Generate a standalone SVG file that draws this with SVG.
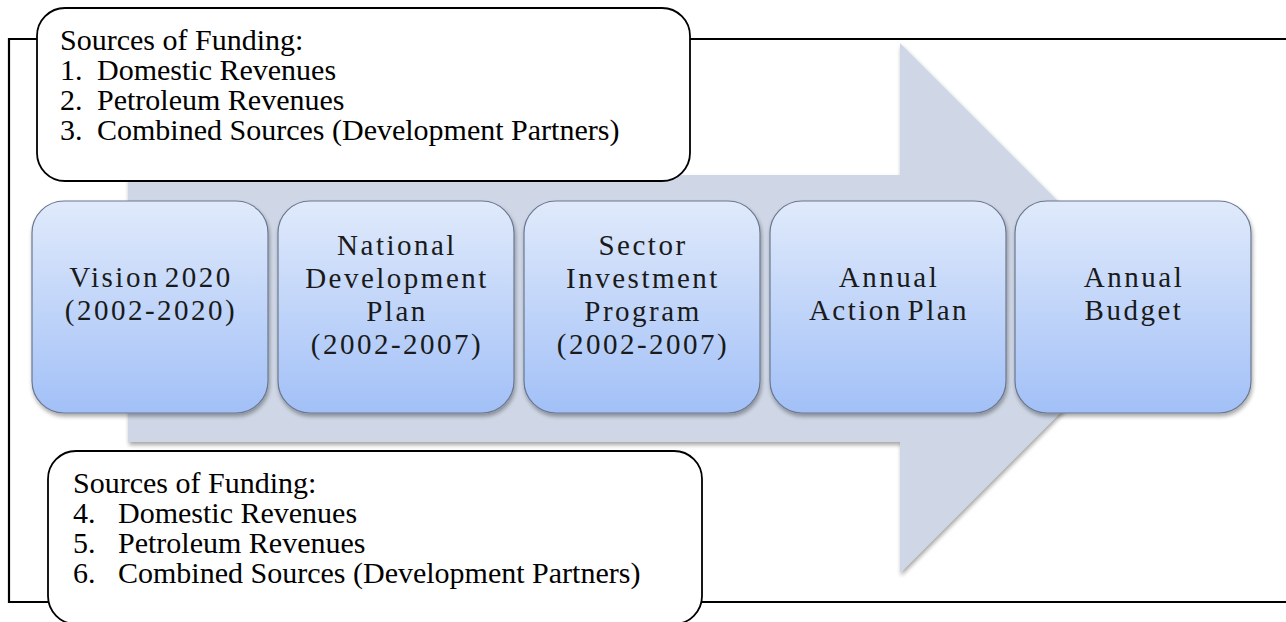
<svg xmlns="http://www.w3.org/2000/svg" width="1286" height="622" viewBox="0 0 1286 622">
<defs>
<linearGradient id="boxg" x1="0" y1="0" x2="0" y2="1">
<stop offset="0" stop-color="#e0eafb"/>
<stop offset="1" stop-color="#a2c0f7"/>
</linearGradient>
<filter id="sh" x="-10%" y="-10%" width="125%" height="125%">
<feGaussianBlur in="SourceAlpha" stdDeviation="2"/>
<feOffset dx="1" dy="3" result="b"/>
<feComponentTransfer><feFuncA type="linear" slope="0.35"/></feComponentTransfer>
<feMerge><feMergeNode/><feMergeNode in="SourceGraphic"/></feMerge>
</filter>
</defs>
<style>
.frame{fill:none;stroke:#000;stroke-width:2.2}
.call{fill:#fff;stroke:#000;stroke-width:1.8}
.ct{font-family:"Liberation Serif","Times New Roman",serif;font-size:30px;fill:#000}
.box{fill:url(#boxg);stroke:#6a7790;stroke-width:1.2}
.bt{font-family:"Liberation Serif","Times New Roman",serif;font-size:29px;fill:#1a1a1a;text-anchor:middle;letter-spacing:2.5px;word-spacing:-5px}
.arrow{fill:#cfd7e6}
</style>
<g id="connectors">
<path class="frame" d="M1286 39 H9 V602 H1286"/>
<path id="big-arrow" class="arrow" filter="url(#sh)" d="M128 175 H900 V43 L1165 308 L900 573 V442 H128 Z"/>
</g>
<g id="funding-top">
<rect class="call" x="37" y="8" width="653" height="173" rx="28"/>
<text class="ct" x="60" y="50">Sources of Funding:</text>
<text class="ct" x="60" y="80">1.</text><text class="ct" x="97" y="80">Domestic Revenues</text>
<text class="ct" x="60" y="110">2.</text><text class="ct" x="97" y="110">Petroleum Revenues</text>
<text class="ct" x="60" y="140">3.</text><text class="ct" x="97" y="140">Combined Sources (Development Partners)</text>
</g>
<g id="funding-bottom">
<rect class="call" x="48" y="451" width="654" height="173" rx="28"/>
<text class="ct" x="73" y="493">Sources of Funding:</text>
<text class="ct" x="73" y="523">4.</text><text class="ct" x="118" y="523">Domestic Revenues</text>
<text class="ct" x="73" y="553">5.</text><text class="ct" x="118" y="553">Petroleum Revenues</text>
<text class="ct" x="73" y="583">6.</text><text class="ct" x="118" y="583">Combined Sources (Development Partners)</text>
</g>
<g id="vision">
<rect class="box" filter="url(#sh)" x="32" y="201" width="236" height="212" rx="32"/>
<text class="bt" x="151" y="287">Vision 2020</text>
<text class="bt" x="151" y="320">(2002-2020)</text>
</g>
<g id="ndp">
<rect class="box" filter="url(#sh)" x="278" y="201" width="236" height="212" rx="32"/>
<text class="bt" x="397" y="255">National</text>
<text class="bt" x="397" y="288">Development</text>
<text class="bt" x="397" y="321">Plan</text>
<text class="bt" x="397" y="354">(2002-2007)</text>
</g>
<g id="sip">
<rect class="box" filter="url(#sh)" x="524" y="201" width="236" height="212" rx="32"/>
<text class="bt" x="643" y="255">Sector</text>
<text class="bt" x="643" y="288">Investment</text>
<text class="bt" x="643" y="321">Program</text>
<text class="bt" x="643" y="354">(2002-2007)</text>
</g>
<g id="aap">
<rect class="box" filter="url(#sh)" x="770" y="201" width="236" height="212" rx="32"/>
<text class="bt" x="889" y="287">Annual</text>
<text class="bt" x="889" y="320">Action Plan</text>
</g>
<g id="budget">
<rect class="box" filter="url(#sh)" x="1015" y="201" width="236" height="212" rx="32"/>
<text class="bt" x="1134" y="287">Annual</text>
<text class="bt" x="1134" y="320">Budget</text>
</g>
</svg>
